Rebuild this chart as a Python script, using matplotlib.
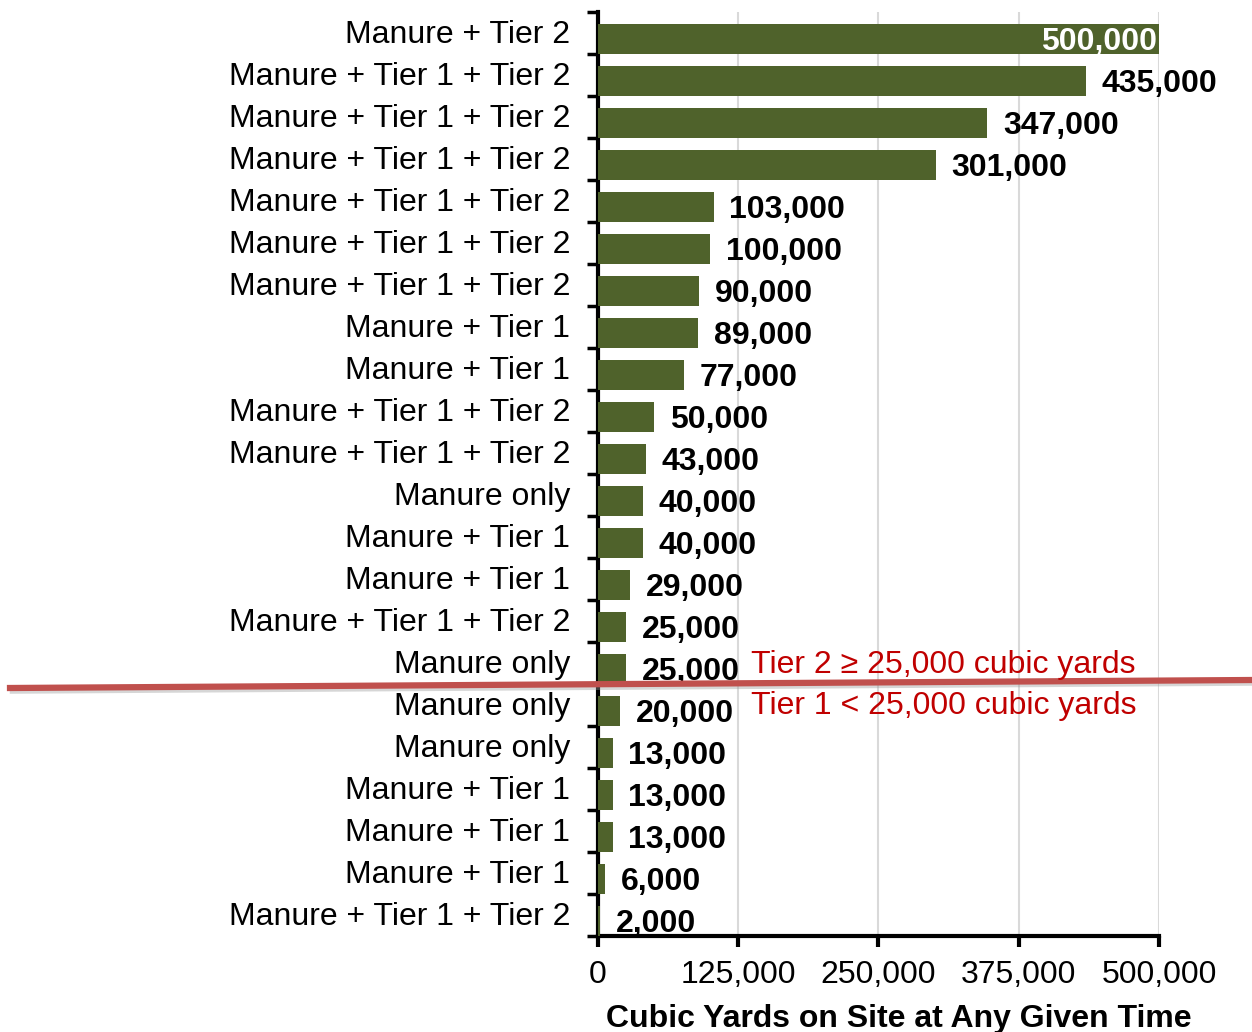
import matplotlib.pyplot as plt
from matplotlib.lines import Line2D
from matplotlib.ticker import FixedLocator

# データ (上から順)
labels = ["Manure + Tier 2", "Manure + Tier 1 + Tier 2", "Manure + Tier 1 + Tier 2",
          "Manure + Tier 1 + Tier 2", "Manure + Tier 1 + Tier 2", "Manure + Tier 1 + Tier 2",
          "Manure + Tier 1 + Tier 2", "Manure + Tier 1", "Manure + Tier 1",
          "Manure + Tier 1 + Tier 2", "Manure + Tier 1 + Tier 2", "Manure only",
          "Manure + Tier 1", "Manure + Tier 1", "Manure + Tier 1 + Tier 2", "Manure only",
          "Manure only", "Manure only", "Manure + Tier 1", "Manure + Tier 1",
          "Manure + Tier 1", "Manure + Tier 1 + Tier 2"]
values = [500000, 435000, 347000, 301000, 103000, 100000, 90000, 89000, 77000,
          50000, 43000, 40000, 40000, 29000, 25000, 25000, 20000, 13000, 13000,
          13000, 6000, 2000]
xticks = [0, 125000, 250000, 375000, 500000]
tier2_text = "Tier 2 \u2265 25,000 cubic yards"
tier1_text = "Tier 1 < 25,000 cubic yards"

plt.rcParams["font.family"] = ["Liberation Sans", "DejaVu Sans"]

fig = plt.figure(figsize=(12.52, 10.32), dpi=100)
ax = fig.add_axes([0.4776, 0.093, 0.4481, 0.895])

n = len(values)
ypos = list(range(n))
BAR_H = 0.72
OFF = 0.5 - BAR_H / 2  # バーは各区間の下側に寄せる
ax.barh([y + OFF for y in ypos], values, height=BAR_H, color="#4F622B", zorder=3)
ax.set_ylim(n - 0.5, -0.5)
ax.set_xlim(0, 500000)

# y軸: ラベルは中央、目盛りは境界
ax.set_yticks([y - 0.04 for y in ypos])
ax.set_yticklabels(labels, fontsize=23)
ax.tick_params(axis="y", which="major", length=0, pad=20)
ax.yaxis.set_minor_locator(FixedLocator([i - 0.5 for i in range(n + 1)]))
ax.tick_params(axis="y", which="minor", length=8, width=2.5, direction="out")

ax.set_xticks(xticks)
ax.set_xticklabels(["{:,}".format(v) for v in xticks], fontsize=23)
ax.tick_params(axis="x", length=8, width=3, direction="out", pad=9)
ax.xaxis.grid(True, color="#D9D9D9", linewidth=1.5, zorder=0)
ax.set_axisbelow(True)

for s in ["top", "right"]:
    ax.spines[s].set_visible(False)
ax.spines["left"].set_linewidth(3)
ax.spines["bottom"].set_linewidth(3)

ax.set_xlabel("Cubic Yards on Site at Any Given Time", fontsize=23,
              fontweight="bold")
ax.xaxis.set_label_coords(0.537, -0.074)

# 値ラベル
for i, v in enumerate(values):
    txt = "{:,}".format(v)
    if v == max(values):
        ax.text(v - 1500, i + OFF + 0.07, txt, ha="right", va="center",
                color="white", fontsize=23, fontweight="bold", zorder=4)
    else:
        ax.text(v + 14000, i + OFF + 0.07, txt, ha="left", va="center",
                color="black", fontsize=23, fontweight="bold", zorder=4)

# Tier境界線と注記
fig.add_artist(Line2D([0.01, 1.0], [1 - 691 / 1032, 1 - 683 / 1032],
                      color="#999999", linewidth=4, alpha=0.4,
                      transform=fig.transFigure))
fig.add_artist(Line2D([0.008, 1.0], [1 - 688 / 1032, 1 - 680 / 1032],
                      color="#C0504D", linewidth=4.5, transform=fig.transFigure))
fig.text(751 / 1252, 1 - 665 / 1032, tier2_text, color="#C00000", fontsize=23,
         va="center", ha="left")
fig.text(751 / 1252, 1 - 706 / 1032, tier1_text, color="#C00000", fontsize=23,
         va="center", ha="left")

fig.savefig("out.png", dpi=100)
